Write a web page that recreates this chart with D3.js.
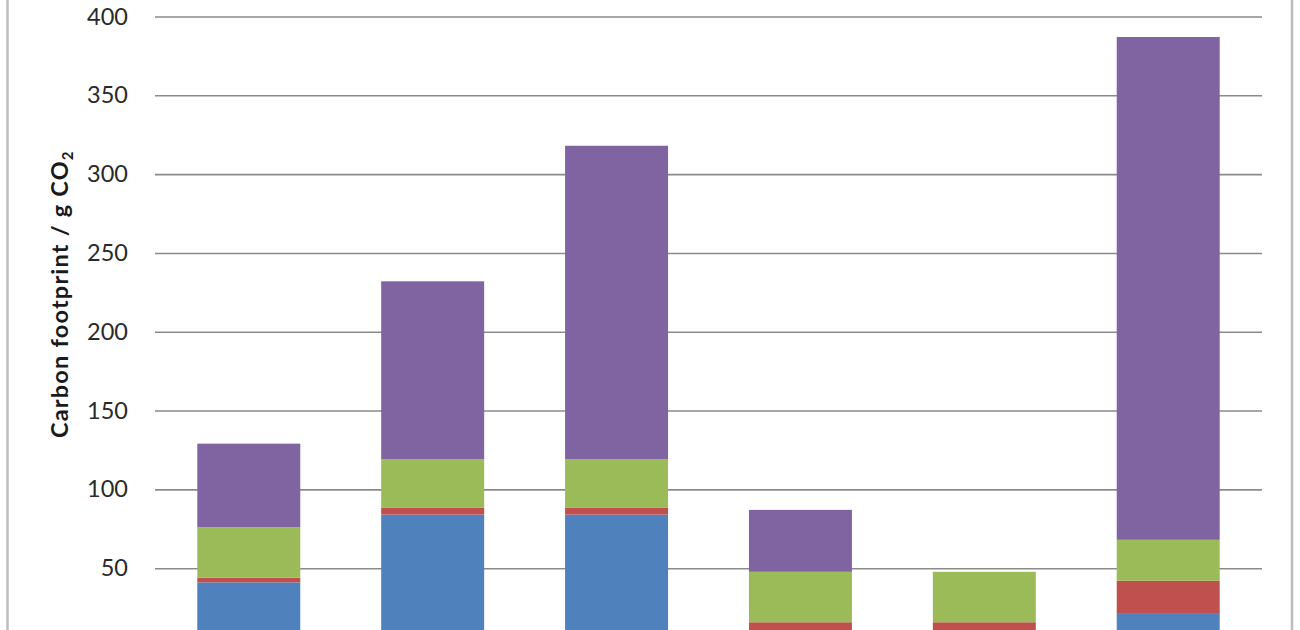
<!DOCTYPE html>
<html>
<head>
<meta charset="utf-8">
<script src="https://cdn.jsdelivr.net/npm/d3@7"></script>
<style>
  body { margin: 0; background: #fff; }
  svg { display: block; }
</style>
</head>
<body>
<script>
// chart data (g CO2 per item)
var categories = ["1", "2", "3", "4", "5", "6"];
var seriesKeys = ["blue", "red", "green", "purple"];
var blueVals   = [41, 84, 84, 10, 10, 21];
var redVals    = [3, 4.5, 4.5, 5.7, 5.7, 21];
var greenVals  = [32, 30.5, 30.5, 32, 32, 26];
var purpleVals = [53, 113, 199, 39.3, 0, 319];
var yTicks = [50, 100, 150, 200, 250, 300, 350, 400];

var colors = { blue: "#4f81bd", red: "#c0504d", green: "#9bbb59", purple: "#8064a2" };

window.onload = () => {
    var W = 1300, H = 630;
    var left = 155, right = 1262;

    var rows = categories.map(function (c, i) {
        return { cat: c, blue: blueVals[i], red: redVals[i], green: greenVals[i], purple: purpleVals[i] };
    });

    var svg = d3.select("body").append("svg")
        .attr("width", W)
        .attr("height", H);

    var x = d3.scaleBand().domain(categories).range([left, right])
        .paddingInner(0.44).paddingOuter(0.23);
    var y = d3.scaleLinear().domain([0, 400]).range([647, 16.5]);

    // gridlines + tick labels
    var yAxis = svg.append("g")
        .attr("transform", "translate(" + left + ",0)")
        .call(d3.axisLeft(y).tickValues(yTicks).tickSize(-(right - left)).tickPadding(27));
    yAxis.select(".domain").remove();
    yAxis.selectAll(".tick line")
        .attr("stroke", "#8a8a8a")
        .attr("stroke-width", 1.6);
    yAxis.selectAll(".tick text")
        .attr("fill", "#2a2a2a")
        .style("font-family", "Lato, 'Open Sans', sans-serif")
        .style("font-size", "23.5px");

    // stacked bars
    var stack = d3.stack().keys(seriesKeys)(rows);
    svg.append("g")
        .selectAll("g")
        .data(stack)
        .enter()
        .append("g")
        .attr("fill", function (d) { return colors[d.key]; })
        .selectAll("rect")
        .data(function (d) { return d; })
        .enter()
        .append("rect")
        .attr("x", function (d) { return x(d.data.cat); })
        .attr("width", x.bandwidth())
        .attr("y", function (d) { return y(d[1]); })
        .attr("height", function (d) { return y(d[0]) - y(d[1]); });

    // y axis title
    var title = svg.append("text")
        .attr("transform", "translate(68,438) rotate(-90)")
        .style("font-family", "Lato, 'Open Sans', sans-serif")
        .style("font-weight", "bold")
        .style("font-size", "23.5px")
        .style("letter-spacing", "1.2px")
        .attr("fill", "#1a1a1a");
    title.append("tspan").text("Carbon footprint / g CO");
    title.append("tspan").attr("dy", 5).style("font-size", "15px").text("2");

    // chart frame edges
    svg.append("line").attr("x1", 7.5).attr("x2", 7.5).attr("y1", 0).attr("y2", H)
        .attr("stroke", "#bdbdbd").attr("stroke-width", 2.5);
    svg.append("line").attr("x1", 1292).attr("x2", 1292).attr("y1", 0).attr("y2", H)
        .attr("stroke", "#bdbdbd").attr("stroke-width", 2.5);
};
</script>
</body>
</html>
